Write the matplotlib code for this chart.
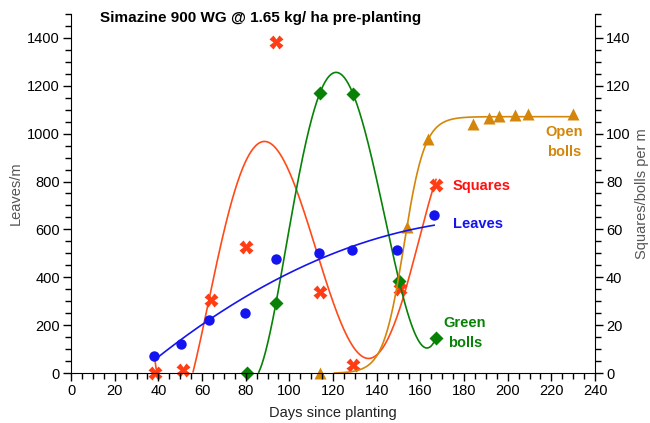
import numpy as np
import matplotlib
matplotlib.use("Agg")
import matplotlib.pyplot as plt

plt.rcParams['font.family'] = ['Liberation Sans', 'DejaVu Sans']

# ---- data ----
leaves_days = [38, 50.4, 63.4, 79.7, 93.7, 113.6, 128.7, 149.3, 166.3]
leaves_per_m = [70, 121, 221, 251, 476, 501, 514, 514, 660]

squares_days = [38.5, 51.3, 64, 80, 93.9, 114, 129, 150.6, 167.2]
squares_per_m = [0, 1.2, 30.5, 52.6, 138.3, 33.8, 3.3, 35, 78.6]

green_days = [80.6, 93.9, 114, 129.2, 150.3, 167.2]
green_per_m = [0, 29.3, 117, 116.6, 38.4, 14.6]

open_days = [114, 153.9, 163.5, 184.1, 191.5, 196.1, 203.4, 209.3, 230]
open_per_m = [0, 61, 97.8, 104, 106.6, 107.4, 107.8, 108.2, 108.2]

title = "Simazine 900 WG @ 1.65 kg/ ha pre-planting"

c_leaves = '#1414F0'
c_sq_mark = '#FF3C14'
c_sq_line = '#FF4A1A'
c_sq_text = '#FF1010'
c_green = '#078207'
c_open = '#D4860A'
c_label = '#555555'


def poly_curve(x, y, deg, n=400):
    xs = np.linspace(min(x), max(x), n)
    ys = np.polyval(np.polyfit(x, y, deg), xs)
    ys = np.where(ys < 0, np.nan, ys)
    return xs, ys


def logistic_curve(x, y, n=400):
    x = np.asarray(x, float); y = np.asarray(y, float)
    best = None
    for x0 in np.linspace(130, 170, 161):
        for k in np.linspace(0.05, 0.6, 111):
            s = 1.0 / (1.0 + np.exp(-k * (x - x0)))
            M = np.column_stack([s, np.ones_like(s)])
            coef, *_ = np.linalg.lstsq(M, y, rcond=None)
            r = np.sum((M @ coef - y) ** 2)
            if best is None or r < best[0]:
                best = (r, x0, k, coef)
    _, x0, k, (A, c) = best
    xs = np.linspace(x.min(), x.max(), n)
    ys = c + A / (1.0 + np.exp(-k * (xs - x0)))
    ys = np.where(ys < 0, np.nan, ys)
    return xs, ys


fig = plt.figure(figsize=(6.5, 4.23), dpi=100)
ax = fig.add_axes([71/650, 50/423, 524/650, 359/423])
ax2 = ax.twinx()
ax.set_zorder(ax2.get_zorder() + 1)
ax.patch.set_visible(False)

ax.set_xlim(0, 240)
ax.set_ylim(0, 1500)
ax2.set_ylim(0, 150)

# left axis: leaves
lx, ly = poly_curve(leaves_days, leaves_per_m, 2)
ax.plot(lx, ly, color=c_leaves, lw=1.2, clip_on=False)
ax.plot(leaves_days, leaves_per_m, 'o', color=c_leaves, ms=7.5, mec='none', clip_on=False)

# right axis
sx, sy = poly_curve(squares_days, squares_per_m, 5)
ax2.plot(sx, sy, color=c_sq_line, lw=1.2)
ax2.plot(squares_days, squares_per_m, 'X', color=c_sq_mark, ms=9.5, mec='none', clip_on=False)

gx, gy = poly_curve(green_days, green_per_m, 5)
ax2.plot(gx, gy, color=c_green, lw=1.2)
ax2.plot(green_days, green_per_m, 'D', color=c_green, ms=7, mec='none', clip_on=False)

ox, oy = logistic_curve(open_days, open_per_m)
ax2.plot(ox, oy, color=c_open, lw=1.2)
ax2.plot(open_days, open_per_m, '^', color=c_open, ms=9, mec='none', clip_on=False)

# ticks/spines
for a in (ax, ax2):
    a.spines['top'].set_visible(False)
ax.spines['right'].set_visible(False)
ax2.spines['left'].set_visible(False)
ax2.spines['bottom'].set_visible(False)

ax.set_xticks(np.arange(0, 241, 20))
ax.set_xticks(np.arange(0, 241, 5), minor=True)
ax.set_yticks(np.arange(0, 1401, 200))
ax.set_yticks(np.arange(0, 1501, 50), minor=True)
ax2.set_yticks(np.arange(0, 141, 20))
ax2.set_yticks(np.arange(0, 151, 5), minor=True)

for a in (ax, ax2):
    a.tick_params(which='major', length=6, width=1, labelsize=10.5, pad=2, direction='out')
    a.tick_params(which='minor', length=4, width=1, direction='out')

ax.set_xlabel('Days since planting', fontsize=10.5, color='#222222', labelpad=6)
ax.set_ylabel('Leaves/m', fontsize=10.5, color=c_label, labelpad=3)
ax2.set_ylabel('Squares/bolls per m', fontsize=10.5, color=c_label, labelpad=3)

ax.text(29/524, 1.0 - 4/359, title, transform=ax.transAxes, fontsize=11,
        fontweight='bold', ha='left', va='center')

ax2.text(175, 78, 'Squares', color=c_sq_text, fontsize=10.5, fontweight='bold', va='center')
ax2.text(175, 62.3, 'Leaves', color=c_leaves, fontsize=10.5, fontweight='bold', va='center')
ax2.text(180.5, 16.7, 'Green\nbolls', color=c_green, fontsize=10.5, fontweight='bold',
         va='center', ha='center', linespacing=1.5)
ax2.text(226, 96.5, 'Open\nbolls', color=c_open, fontsize=10.5, fontweight='bold',
         va='center', ha='center', linespacing=1.5)

fig.savefig('out.png', dpi=100)
